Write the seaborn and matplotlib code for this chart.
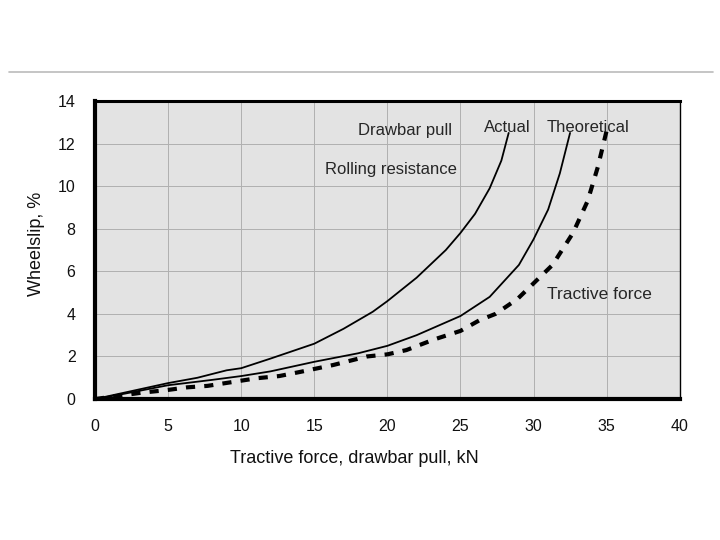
import numpy as np
import pandas as pd
import matplotlib
matplotlib.use('Agg')
import matplotlib.pyplot as plt
import seaborn as sns
from matplotlib.lines import Line2D

# --- Data ---
drawbar_x = [0, 2, 3, 5, 7, 9, 10, 12, 15, 17, 19, 20, 22, 24, 25, 26, 27, 27.8, 28.3]
drawbar_y = [0, 0.3, 0.45, 0.75, 1.0, 1.35, 1.45, 1.9, 2.6, 3.3, 4.1, 4.6, 5.7, 7.0, 7.8, 8.7, 9.9, 11.2, 12.5]

actual_x = [0, 2, 5, 8, 10, 12, 15, 18, 20, 22, 25, 27, 29, 30, 31, 31.8, 32.5]
actual_y = [0, 0.25, 0.65, 0.9, 1.08, 1.3, 1.75, 2.15, 2.5, 3.0, 3.9, 4.8, 6.3, 7.5, 8.9, 10.6, 12.5]

theor_x = [0, 3.2, 4.9, 6.3, 7.7, 9.4, 11.1, 12.6, 14, 16.3, 18.6, 20, 21.3, 23.2, 25, 26.3,
           27.4, 28.9, 30.1, 31.3, 32.7, 33.7, 34.4, 35.0]
theor_y = [0, 0.3, 0.42, 0.55, 0.62, 0.8, 0.98, 1.08, 1.27, 1.6, 2.0, 2.1, 2.3, 2.8, 3.2, 3.7,
           4.0, 4.7, 5.5, 6.3, 7.8, 9.3, 10.9, 12.6]

x_ticks = [0, 5, 10, 15, 20, 25, 30, 35, 40]
y_ticks = [0, 2, 4, 6, 8, 10, 12, 14]

df = pd.concat([
    pd.DataFrame({'force': drawbar_x, 'slip': drawbar_y, 'curve': 'Drawbar pull'}),
    pd.DataFrame({'force': actual_x, 'slip': actual_y, 'curve': 'Actual'}),
    pd.DataFrame({'force': theor_x, 'slip': theor_y, 'curve': 'Theoretical'}),
])

sns.set_style('white')
plt.rcParams['font.family'] = ['Liberation Sans', 'DejaVu Sans']

fig = plt.figure(figsize=(7.2, 5.4), dpi=100)
ax = fig.add_axes([0.132, 0.261, 0.812, 0.552])
ax.set_facecolor('#e3e3e3')

sns.lineplot(data=df, x='force', y='slip', hue='curve', style='curve',
             palette={'Drawbar pull': 'black', 'Actual': 'black', 'Theoretical': 'black'},
             dashes={'Drawbar pull': '', 'Actual': '', 'Theoretical': (2.2, 2.2)},
             sort=False, estimator=None, legend=False, ax=ax)
for line in ax.get_lines():
    line.set_linewidth(1.3)
ax.get_lines()[2].set_linewidth(3.0)

ax.set_xlim(0, 40)
ax.set_ylim(0, 14)
ax.set_xticks(x_ticks)
ax.set_yticks(y_ticks)
ax.grid(True, color='#b0b0b0', linewidth=0.7)
ax.set_axisbelow(True)

for side in ['left', 'bottom']:
    ax.spines[side].set_linewidth(3)
ax.spines['top'].set_linewidth(2.2)
ax.spines['right'].set_linewidth(1.0)
for s in ax.spines.values():
    s.set_color('black')

ax.tick_params(direction='inout', length=10, width=2.5, labelsize=11.5, pad=9, colors='#111111')

ax.set_xlabel('Tractive force, drawbar pull, kN', fontsize=13, color='#111111')
ax.set_ylabel('Wheelslip, %', fontsize=13, color='#111111')
ax.xaxis.set_label_coords(0.444, -0.17)
ax.yaxis.set_label_coords(-0.085, 0.52)

ax.text(21.2, 12.6, 'Drawbar pull', fontsize=12, va='center', ha='center')
ax.text(28.2, 12.75, 'Actual', fontsize=12, va='center', ha='center')
ax.text(33.7, 12.75, 'Theoretical', fontsize=12, va='center', ha='center')
ax.text(15.7, 10.8, 'Rolling resistance', fontsize=12, va='center', ha='left')
ax.text(30.9, 4.9, 'Tractive force', fontsize=12.5, va='center', ha='left')

fig.add_artist(Line2D([0.013, 0.99], [0.867, 0.867], color='#bbbbbb', linewidth=1.2))

plt.savefig('out.png', dpi=100)
plt.close()
